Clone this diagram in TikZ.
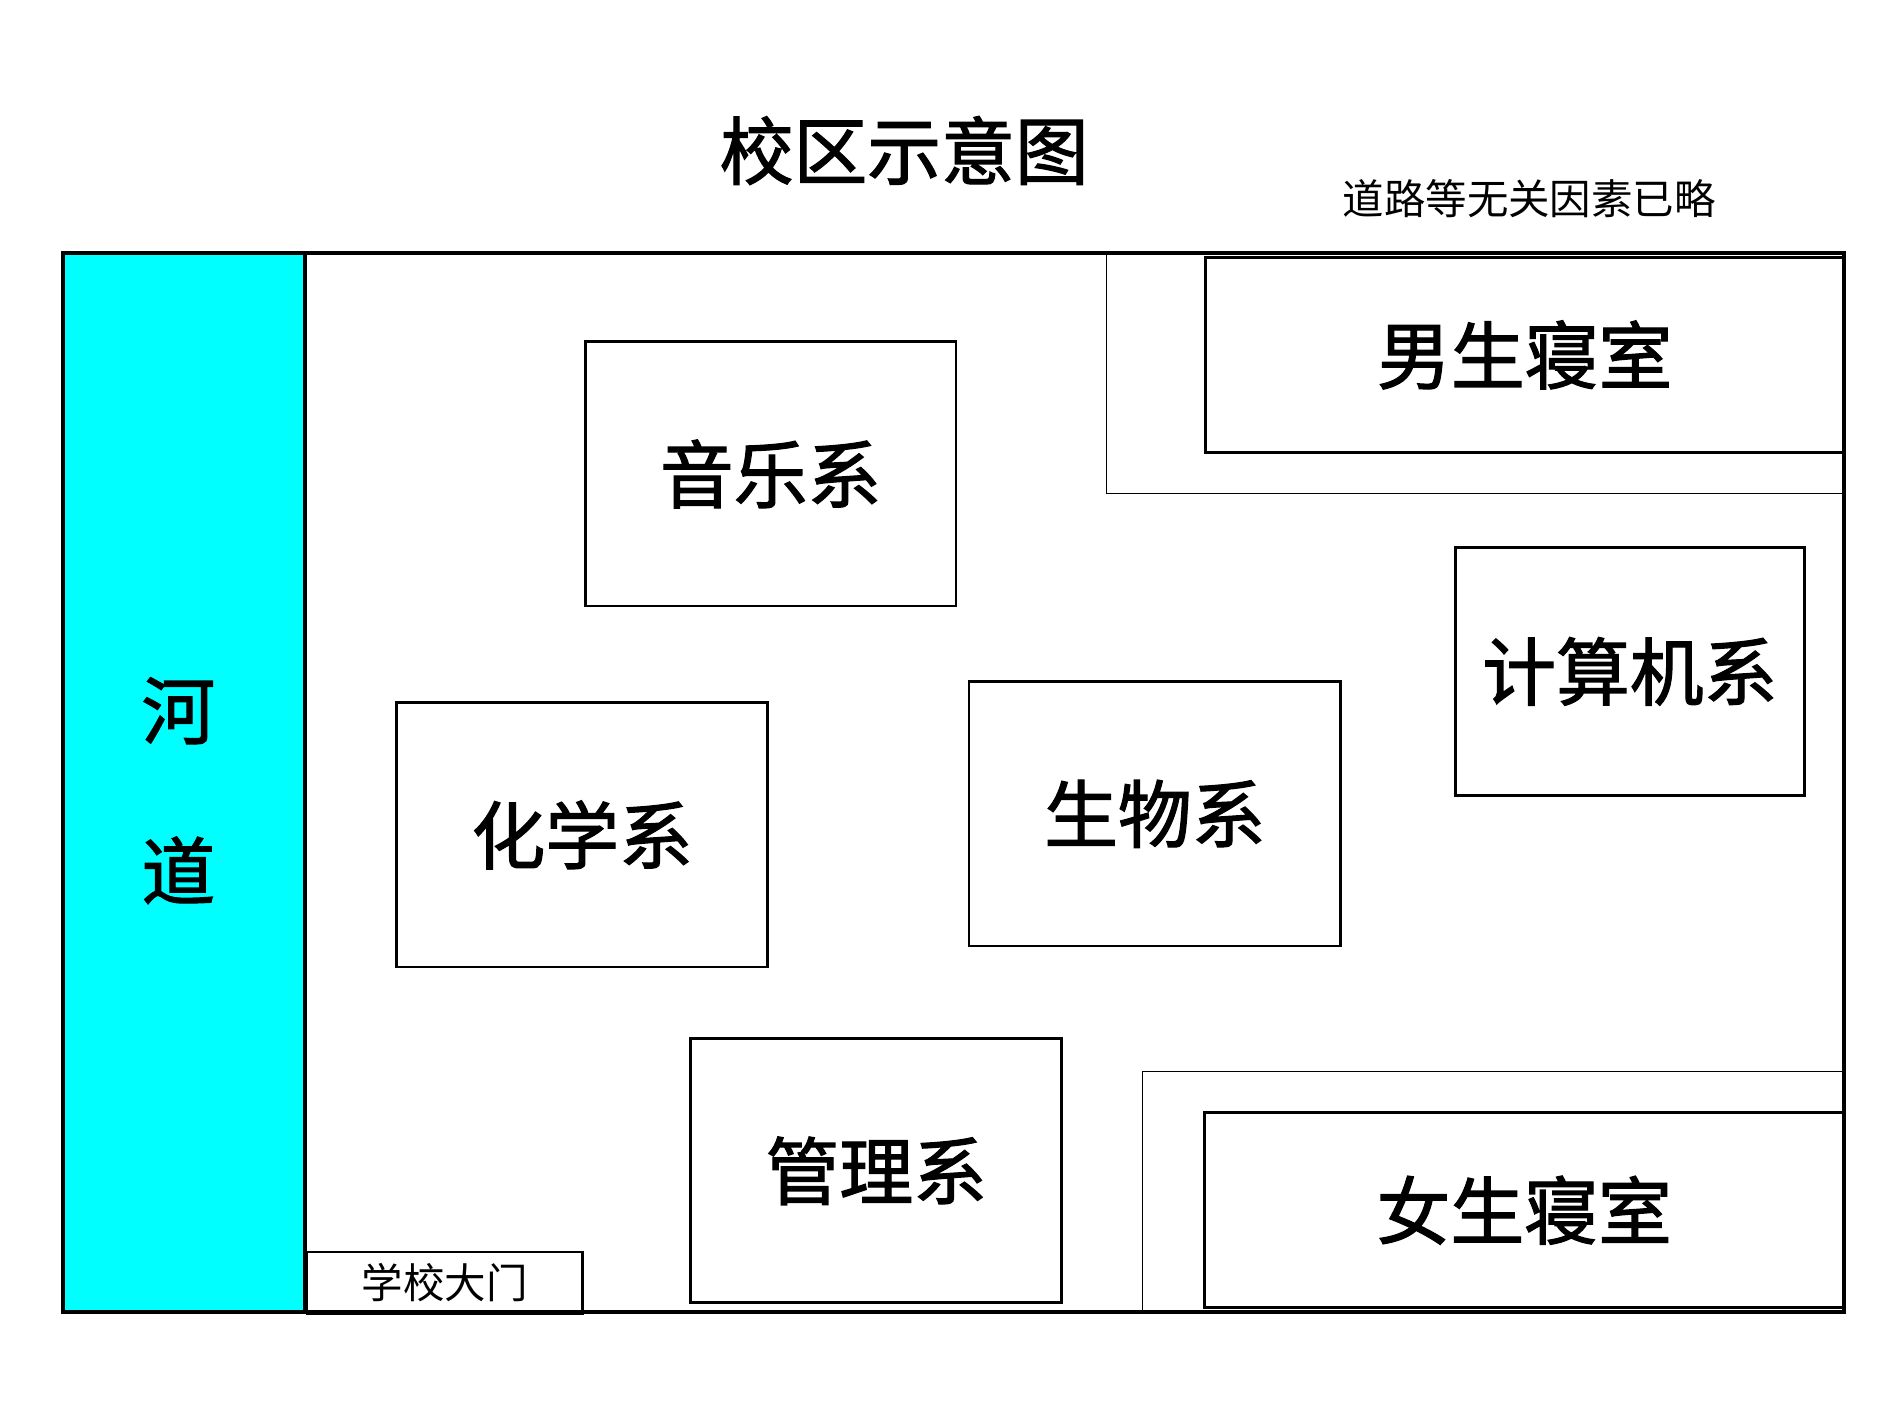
\documentclass[tikz,border=0pt]{standalone}
\usepackage{fontspec}
\setmainfont{Noto Sans CJK SC}
\newfontfamily\heavycjk[FakeBold=1.6]{Noto Sans CJK SC}
\definecolor{rivercyan}{RGB}{0,255,255}
\begin{document}
\begin{tikzpicture}[
    big/.style={font=\heavycjk\fontsize{21}{25}\selectfont},
    bldg/.style={draw, line width=0.8pt, minimum width=3.708cm, minimum height=2.642cm, big},
    small/.style={font=\fontsize{11.8}{14}\selectfont},
    road/.style={line width=0.4pt}]
        \useasboundingbox (0,0) rectangle (18.9,14.17);
        % title and remark
        \node[big] (title) at (9.042,12.665) {校区示意图};
        \node[small] (remark) at (15.292,12.186) {道路等无关因素已略};
        % campus border and river
        \draw[line width=1.1pt] (0.628,1.051) rectangle (18.442,11.638);
        \node[draw, line width=1.1pt, fill=rivercyan, minimum width=2.422cm, minimum height=10.587cm] (river) at (1.839,6.3445) {};
        \node[big] (he) at (1.784,7.062) {河};
        \node[big] (dao) at (1.784,5.467) {道};
        % dormitory yards
        \draw[road] (11.065,11.638) -- (11.065,9.2355) -- (18.442,9.2355);
        \draw[road] (11.424,1.051) -- (11.424,3.454) -- (18.442,3.454);
        % buildings
        \node[bldg] (music) at (7.706,9.43) {音乐系};
        \node[bldg] (chem) at (5.822,5.821) {化学系};
        \node[bldg, minimum width=3.719cm] (bio) at (11.5485,6.031) {生物系};
        \node[bldg] (mgmt) at (8.7625,2.462) {管理系};
        \node[bldg, minimum width=3.489cm, minimum height=2.482cm] (cs) at (16.2985,7.456) {计算机系};
        \node[bldg, minimum width=6.39cm, minimum height=1.954cm] (boys) at (15.247,10.621) {男生寝室};
        \node[bldg, minimum width=6.40cm, minimum height=1.954cm] (girls) at (15.242,2.068) {女生寝室};
        \node[draw, line width=0.8pt, small, minimum width=2.752cm, minimum height=0.579cm] (gate) at (4.446,1.3405) {学校大门};
    \end{tikzpicture}
\end{document}
